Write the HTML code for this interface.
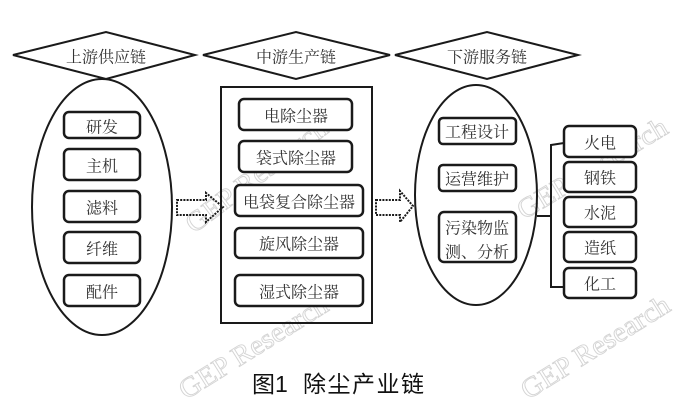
<!DOCTYPE html>
<html><head><meta charset="utf-8"><style>
html,body{margin:0;padding:0;background:#fff;}
svg{display:block;}
.lb{font-family:"Noto Serif CJK SC","Liberation Serif",serif;font-size:16px;fill:#333;text-anchor:middle;dominant-baseline:central;}
.wm{font-family:"Liberation Serif",serif;font-size:28px;fill:none;stroke:#d4d4d4;stroke-width:0.9;}
</style></head><body>
<svg width="676" height="411" viewBox="0 0 676 411" xmlns="http://www.w3.org/2000/svg">
<rect width="676" height="411" fill="#fff"/>
<!-- watermarks -->
<text class="wm" transform="translate(186,400) rotate(-32)" textLength="170" lengthAdjust="spacingAndGlyphs">GEP Research</text>
<text class="wm" transform="translate(528,400) rotate(-32)" textLength="170" lengthAdjust="spacingAndGlyphs">GEP Research</text>
<text class="wm" transform="translate(194,234) rotate(-37)" textLength="170" lengthAdjust="spacingAndGlyphs">GEP Research</text>
<text class="wm" transform="translate(524,220) rotate(-31)" textLength="170" lengthAdjust="spacingAndGlyphs">GEP Research</text>

<g fill="none" stroke="#1a1a1a" stroke-width="2">
<!-- diamonds -->
<polygon points="13,55 106,32 195,55 106,79"/>
<polygon points="203,55 296,32 390,55 296,79"/>
<polygon points="395,55 487,32 578,55 487,79"/>
<!-- left ellipse -->
<ellipse cx="102" cy="207" rx="70" ry="128"/>
<!-- middle rect -->
<rect x="221" y="87" width="151" height="236"/>
<!-- right ellipse -->
<ellipse cx="476" cy="195" rx="61" ry="110"/>
<!-- bracket -->
<path d="M564,143 L551,145 L551,287 L564,287"/>
<path d="M537,216 L551,216"/>
</g>

<!-- dotted arrows -->
<g fill="none" stroke="#1a1a1a" stroke-width="2" stroke-dasharray="2,1.2">
<path d="M177,200 L206,200 L206,193 L223,207 L206,222 L206,215 L177,215 Z"/>
<path d="M376,200 L400,200 L400,191 L413,206 L400,222 L400,215 L376,215 Z"/>
</g>

<!-- boxes -->
<g fill="#fff" stroke="#1a1a1a" stroke-width="2.5">
<rect x="64" y="112" width="76" height="26" rx="5"/>
<rect x="64" y="149" width="76" height="31" rx="5"/>
<rect x="64" y="191" width="76" height="31" rx="5"/>
<rect x="64" y="232" width="76" height="31" rx="5"/>
<rect x="64" y="275" width="76" height="31" rx="5"/>

<rect x="239" y="99" width="113" height="31" rx="5"/>
<rect x="239" y="141" width="113" height="31" rx="5"/>
<rect x="235" y="185" width="128" height="31" rx="5"/>
<rect x="235" y="228" width="128" height="30" rx="5"/>
<rect x="235" y="275" width="128" height="31" rx="5"/>

<rect x="439" y="118" width="77" height="26" rx="4"/>
<rect x="439" y="165" width="77" height="26" rx="4"/>
<rect x="439" y="212" width="77" height="50" rx="5"/>

<rect x="564" y="126" width="72" height="31" rx="5"/>
<rect x="564" y="162" width="72" height="30" rx="5"/>
<rect x="564" y="197" width="72" height="30" rx="5"/>
<rect x="564" y="232" width="72" height="30" rx="5"/>
<rect x="564" y="268" width="72" height="30" rx="5"/>
</g>

<!-- labels -->
<text class="lb" x="106" y="56">上游供应链</text>
<text class="lb" x="296" y="56">中游生产链</text>
<text class="lb" x="487" y="56">下游服务链</text>

<text class="lb" x="102" y="126">研发</text>
<text class="lb" x="102" y="165">主机</text>
<text class="lb" x="102" y="207">滤料</text>
<text class="lb" x="102" y="248">纤维</text>
<text class="lb" x="102" y="291">配件</text>

<text class="lb" x="296" y="115">电除尘器</text>
<text class="lb" x="296" y="157">袋式除尘器</text>
<text class="lb" x="299" y="201">电袋复合除尘器</text>
<text class="lb" x="299" y="243">旋风除尘器</text>
<text class="lb" x="299" y="291">湿式除尘器</text>

<text class="lb" x="477" y="131">工程设计</text>
<text class="lb" x="477" y="178">运营维护</text>
<text class="lb" x="477" y="227">污染物监</text>
<text class="lb" x="477" y="251">测、分析</text>

<text class="lb" x="600" y="142">火电</text>
<text class="lb" x="600" y="177">钢铁</text>
<text class="lb" x="600" y="212">水泥</text>
<text class="lb" x="600" y="247">造纸</text>
<text class="lb" x="600" y="283">化工</text>

<!-- title -->
<text x="252" y="392" style="font-family:'Liberation Sans','Noto Sans CJK SC',sans-serif;font-size:23px;fill:#111;">图1</text>
<text x="303" y="392" style="font-family:'Liberation Sans','Noto Sans CJK SC',sans-serif;font-size:23px;fill:#111;letter-spacing:1.5px;">除尘产业链</text>
</svg>
</body></html>
